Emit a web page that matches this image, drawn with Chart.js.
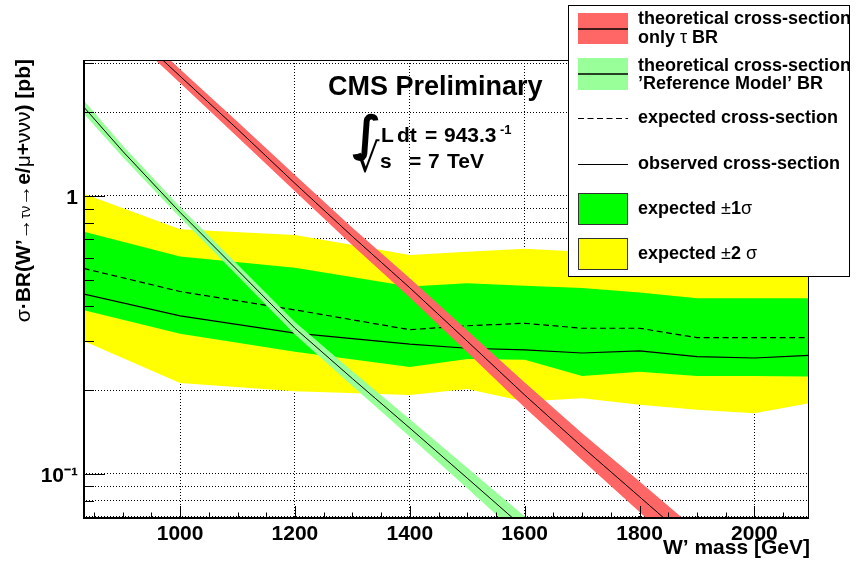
<!DOCTYPE html>
<html><head><meta charset="utf-8">
<script src="https://cdn.jsdelivr.net/npm/chart.js@4.4.0/dist/chart.umd.min.js"></script>
<style>html,body{margin:0;padding:0;background:#fff;} #wrap{width:857px;height:568px;position:relative;}</style>
</head><body><div id="wrap"><canvas id="c" width="857" height="568"></canvas></div>
<script>
// ---- data ----
const limitMass  = [800, 1000, 1200, 1400, 1500, 1600, 1700, 1800, 1900, 2000, 2100];
const observed   = [0.459, 0.370, 0.321, 0.293, 0.283, 0.279, 0.272, 0.277, 0.264, 0.261, 0.267];
const expected   = [0.569, 0.453, 0.389, 0.330, 0.341, 0.348, 0.334, 0.334, 0.309, 0.309, 0.309];
const exp1sUp    = [0.773, 0.605, 0.551, 0.472, 0.485, 0.475, 0.466, 0.449, 0.428, 0.428, 0.428];
const exp1sDown  = [0.403, 0.319, 0.275, 0.242, 0.259, 0.257, 0.225, 0.233, 0.225, 0.225, 0.224];
const exp2sUp    = [1.077, 0.759, 0.724, 0.613, 0.630, 0.645, 0.630, 0.600, 0.580, 0.580, 0.580];
const exp2sDown  = [0.321, 0.212, 0.198, 0.192, 0.202, 0.182, 0.187, 0.177, 0.170, 0.165, 0.180];

const theoryMass = [800, 900, 1000, 1100, 1200, 1300, 1400, 1500, 1600, 1700, 1800, 1900, 2000];
const tauBR      = [6.45, 4.20, 2.70, 1.74, 1.11, 0.715, 0.467, 0.300, 0.192, 0.125, 0.0826, 0.0545, 0.036];
const tauBRUp    = [6.80, 4.43, 2.86, 1.85, 1.19, 0.769, 0.506, 0.328, 0.213, 0.140, 0.0937, 0.0625, 0.0416];
const tauBRDown  = [6.11, 3.98, 2.55, 1.63, 1.04, 0.665, 0.431, 0.274, 0.173, 0.112, 0.0728, 0.0475, 0.0311];
const refBR      = [2.49, 1.45, 0.873, 0.541, 0.334, 0.220, 0.146, 0.0964, 0.0635, 0.042, 0.028, 0.019, 0.0125];
const refBRUp    = [2.64, 1.52, 0.912, 0.567, 0.352, 0.234, 0.157, 0.105, 0.0702, 0.0468, 0.0315, 0.0216, 0.0144];
const refBRDown  = [2.35, 1.38, 0.836, 0.516, 0.317, 0.207, 0.136, 0.0887, 0.0574, 0.0377, 0.0249, 0.0167, 0.0109];

const xTickValues = [1000, 1200, 1400, 1600, 1800, 2000];
const yGridValues = [0.07, 0.08, 0.09, 0.1, 0.2, 0.3, 0.4, 0.5, 0.6, 0.7, 0.8, 0.9, 1, 2, 3];
const yTickLabels = {0.1: '10\u207B\u00B9', 1: '1'};

// ---- helpers ----
const FB = s => `bold ${s}px 'Liberation Sans', Arial, sans-serif`;
const FR = s => `${s}px 'Liberation Sans', Arial, sans-serif`;
const pts = (xs, ys) => xs.map((x, i) => ({x: x, y: ys[i]}));
const hidden = 'rgba(0,0,0,0)';

function richWidth(ctx, segs) {
  let w = 0;
  for (const s of segs) { ctx.font = s.f; w += ctx.measureText(s.t).width + (s.dx || 0); }
  return w;
}
function rich(ctx, x, y, segs) {
  for (const s of segs) {
    ctx.font = s.f;
    x += (s.dx || 0);
    ctx.fillText(s.t, x, y + (s.dy || 0));
    x += ctx.measureText(s.t).width;
  }
  return x;
}

const rootDecor = {
  id: 'rootDecor',
  beforeDraw(chart) {
    const c = chart.ctx; c.save(); c.fillStyle = '#fff'; c.fillRect(0, 0, chart.width, chart.height); c.restore();
  },
  afterDraw(chart) {
    const ctx = chart.ctx, ca = chart.chartArea, xs = chart.scales.x, ys = chart.scales.y;
    ctx.save();
    ctx.strokeStyle = '#000'; ctx.fillStyle = '#000'; ctx.lineWidth = 1; ctx.setLineDash([]);
    // inward tick marks
    ctx.beginPath();
    for (let m = 850; m <= 2050; m += 50) {
      const px = Math.round(xs.getPixelForValue(m)) + 0.5;
      const len = (m >= 1000 && m % 200 === 0) ? 13 : 6.5;
      ctx.moveTo(px, ca.bottom); ctx.lineTo(px, ca.bottom - len);
    }
    for (const v of yGridValues) {
      const py = Math.round(ys.getPixelForValue(v)) + 0.5;
      const len = (v === 0.1 || v === 1) ? 22 : 11;
      ctx.moveTo(ca.left, py); ctx.lineTo(ca.left + len, py);
    }
    ctx.stroke();
    // frame
    ctx.strokeRect(ca.left + 0.5, ca.top + 0.5, ca.right - ca.left - 1, ca.bottom - ca.top - 1);
    ctx.lineWidth = 2;
    ctx.beginPath();
    ctx.moveTo(ca.left + 1, ca.top); ctx.lineTo(ca.left + 1, ca.bottom - 1); ctx.lineTo(ca.right, ca.bottom - 1);
    ctx.stroke();

    // x title
    ctx.textBaseline = 'alphabetic';
    ctx.textAlign = 'right';
    ctx.font = FB(21);
    ctx.fillText('W\u2019 mass [GeV]', 810, 554);
    ctx.textAlign = 'left';

    // y title (rotated)
    const ySegs = [
      {t: '\u03C3', f: FR(21)}, {t: '\u00B7', f: FB(21)}, {t: 'BR(W\u2019', f: FB(21)},
      {t: '\u2192', f: FR(21)}, {t: '\u03C4\u03BD', f: FR(14)}, {t: '\u2192', f: FR(21)},
      {t: 'e/', f: FB(21)}, {t: '\u03BC', f: FR(21)}, {t: '+', f: FB(21)},
      {t: '\u03BD\u03BD\u03BD', f: FR(21)}, {t: ') [pb]', f: FB(21)}
    ];
    const yw = richWidth(ctx, ySegs);
    ctx.save();
    ctx.translate(30, 0);
    ctx.rotate(-Math.PI / 2);
    rich(ctx, -59 - yw, 0, ySegs);
    ctx.restore();

    // CMS text
    ctx.font = FB(27);
    ctx.fillText('CMS Preliminary', 328, 95);
    // integral luminosity
    ctx.font = 'bold 48px "DejaVu Sans", sans-serif';
    ctx.fillText('\u222B', 352, 150);
    ctx.font = FB(21);
    ctx.fillText('L', 381, 142);
    ctx.fillText('dt', 397, 142);
    ctx.fillText('=', 425, 142);
    ctx.fillText('943.3', 444, 142);
    ctx.font = FB(13);
    ctx.fillText('-1', 500, 134);
    // sqrt s
    ctx.font = '40px "DejaVu Sans", sans-serif';
    ctx.fillText('\u221A', 354, 172);
    ctx.font = FB(21);
    ctx.fillText('s', 380, 168);
    ctx.fillText('=', 409, 168);
    ctx.fillText('7', 428, 168);
    ctx.fillText('TeV', 447, 168);

    // legend
    ctx.fillStyle = '#fff';
    ctx.fillRect(568, 5, 282, 272);
    ctx.lineWidth = 1; ctx.strokeStyle = '#000';
    ctx.strokeRect(568.5, 5.5, 281, 271);
    const sx0 = 578, sx1 = 628, tx = 638;
    // entry 1: tau BR band
    ctx.fillStyle = '#ff6666'; ctx.fillRect(sx0, 13, 50, 31);
    ctx.strokeStyle = '#000'; ctx.lineWidth = 1.5;
    ctx.beginPath(); ctx.moveTo(sx0, 29); ctx.lineTo(sx1, 29); ctx.stroke();
    // entry 2: reference model band
    ctx.fillStyle = '#99ff99'; ctx.fillRect(sx0, 58, 50, 32);
    ctx.beginPath(); ctx.moveTo(sx0, 74); ctx.lineTo(sx1, 74); ctx.stroke();
    // entry 3: expected dashed
    ctx.lineWidth = 1;
    ctx.setLineDash([6, 3.5]);
    ctx.beginPath(); ctx.moveTo(sx0, 118.5); ctx.lineTo(sx1, 118.5); ctx.stroke();
    ctx.setLineDash([]);
    // entry 4: observed
    ctx.beginPath(); ctx.moveTo(sx0, 164.5); ctx.lineTo(sx1, 164.5); ctx.stroke();
    // entry 5, 6: boxes
    ctx.strokeStyle = '#333';
    ctx.fillStyle = '#00ff00'; ctx.fillRect(sx0, 193, 50, 32); ctx.strokeRect(sx0 + 0.5, 193.5, 49, 31);
    ctx.fillStyle = '#ffff00'; ctx.fillRect(sx0, 238, 50, 32); ctx.strokeRect(sx0 + 0.5, 238.5, 49, 31);

    ctx.fillStyle = '#000';
    rich(ctx, tx, 24, [{t: 'theoretical cross-section', f: FB(18)}]);
    rich(ctx, tx, 42.5, [{t: 'only ', f: FB(18)}, {t: '\u03C4', f: FR(18)}, {t: ' BR', f: FB(18)}]);
    rich(ctx, tx, 70.5, [{t: 'theoretical cross-section', f: FB(18)}]);
    rich(ctx, tx, 89, [{t: '\u2019Reference Model\u2019 BR', f: FB(18)}]);
    rich(ctx, tx, 122.5, [{t: 'expected cross-section', f: FB(18)}]);
    rich(ctx, tx, 168.5, [{t: 'observed cross-section', f: FB(18)}]);
    rich(ctx, tx, 213.5, [{t: 'expected ', f: FB(18)}, {t: '\u00B1', f: FR(18)}, {t: '1', f: FB(18)}, {t: '\u03C3', f: FR(18)}]);
    rich(ctx, tx, 258.5, [{t: 'expected ', f: FB(18)}, {t: '\u00B1', f: FR(18)}, {t: '2 ', f: FB(18)}, {t: '\u03C3', f: FR(18)}]);
    ctx.restore();
  }
};

const baseLine = {showLine: true, pointRadius: 0, pointHoverRadius: 0, tension: 0, fill: false};

new Chart(document.getElementById('c'), {
  type: 'line',
  data: {
    datasets: [
      Object.assign({}, baseLine, {label: 'theoretical cross-section only \u03C4 BR', data: pts(theoryMass, tauBR), borderColor: '#000', borderWidth: 1, order: 0}),
      Object.assign({}, baseLine, {label: 'tau up', data: pts(theoryMass, tauBRUp), borderColor: hidden, borderWidth: 0, backgroundColor: '#ff6666', fill: {target: 2}, order: 1}),
      Object.assign({}, baseLine, {label: 'tau down', data: pts(theoryMass, tauBRDown), borderColor: hidden, borderWidth: 0, order: 1}),
      Object.assign({}, baseLine, {label: "theoretical cross-section 'Reference Model' BR", data: pts(theoryMass, refBR), borderColor: '#000', borderWidth: 1, order: 2}),
      Object.assign({}, baseLine, {label: 'ref up', data: pts(theoryMass, refBRUp), borderColor: hidden, borderWidth: 0, backgroundColor: '#99ff99', fill: {target: 5}, order: 3}),
      Object.assign({}, baseLine, {label: 'ref down', data: pts(theoryMass, refBRDown), borderColor: hidden, borderWidth: 0, order: 3}),
      Object.assign({}, baseLine, {label: 'observed cross-section', data: pts(limitMass, observed), borderColor: '#000', borderWidth: 1.2, order: 4}),
      Object.assign({}, baseLine, {label: 'expected cross-section', data: pts(limitMass, expected), borderColor: '#000', borderWidth: 1.2, borderDash: [6, 3.5], order: 5}),
      Object.assign({}, baseLine, {label: 'expected +1 sigma', data: pts(limitMass, exp1sUp), borderColor: hidden, borderWidth: 0, backgroundColor: '#00ff00', fill: {target: 9}, order: 6}),
      Object.assign({}, baseLine, {label: 'expected -1 sigma', data: pts(limitMass, exp1sDown), borderColor: hidden, borderWidth: 0, order: 6}),
      Object.assign({}, baseLine, {label: 'expected +2 sigma', data: pts(limitMass, exp2sUp), borderColor: hidden, borderWidth: 0, backgroundColor: '#ffff00', fill: {target: 11}, order: 7}),
      Object.assign({}, baseLine, {label: 'expected -2 sigma', data: pts(limitMass, exp2sDown), borderColor: hidden, borderWidth: 0, order: 7})
    ]
  },
  options: {
    responsive: false,
    animation: false,
    devicePixelRatio: 1,
    events: [],
    layout: {padding: {left: 0, top: 60, right: 48, bottom: 0}},
    plugins: {legend: {display: false}, tooltip: {enabled: false}, title: {display: false}},
    scales: {
      x: {
        type: 'linear', position: 'bottom', min: 831, max: 2095,
        afterFit: s => { s.height = 49; },
        afterBuildTicks: s => { s.ticks = xTickValues.map(v => ({value: v})); },
        grid: {display: true, color: '#000', lineWidth: 1, drawTicks: false},
        border: {display: false, dash: [1, 2]},
        ticks: {color: '#000', font: {family: "'Liberation Sans', Arial, sans-serif", weight: 'bold', size: 21}, padding: 3, maxRotation: 0, autoSkip: false,
                callback: v => String(v)}
      },
      y: {
        type: 'logarithmic', position: 'left', min: 0.0687, max: 3.087,
        afterFit: s => { s.width = 83; },
        afterBuildTicks: s => { s.ticks = yGridValues.map(v => ({value: v})); },
        grid: {display: true, color: '#000', lineWidth: 1, drawTicks: false},
        border: {display: false, dash: [1, 2]},
        ticks: {color: '#000', font: {family: "'Liberation Sans', Arial, sans-serif", weight: 'bold', size: 21}, padding: 5, labelOffset: 2, autoSkip: false,
                callback: v => (yTickLabels[v] !== undefined ? yTickLabels[v] : '')}
      }
    }
  },
  plugins: [rootDecor]
});
</script>
</body></html>
